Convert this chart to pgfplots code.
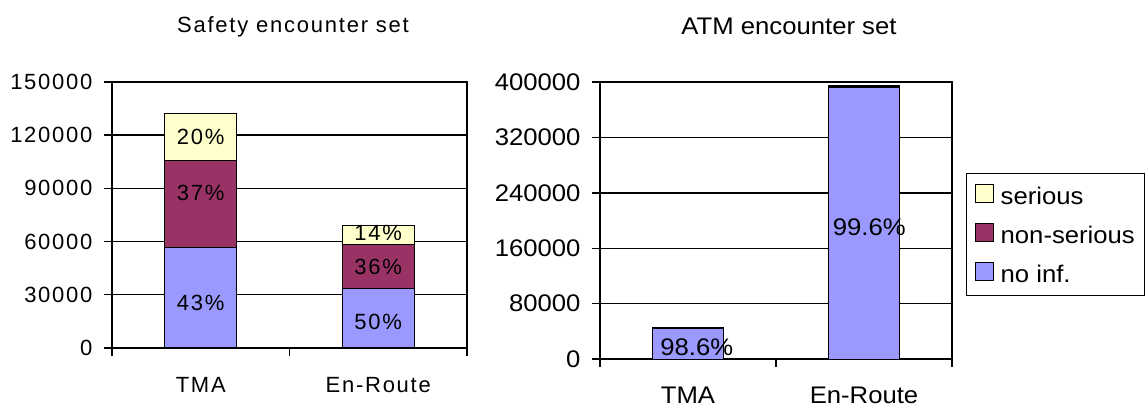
\documentclass[border=0pt]{standalone}
\usepackage{fontspec}
\setmainfont{Liberation Sans}
\newfontfamily\leftfont[LetterSpace=8]{Liberation Sans}
\newfontfamily\rightfont[FakeStretch=1.07]{Liberation Sans}
\usepackage{pgfplots}
\pgfplotsset{compat=1.18}
\definecolor{noinf}{HTML}{9999FF}
\definecolor{nonser}{HTML}{993366}
\definecolor{ser}{HTML}{FFFFCC}
\newcommand{\lf}{\leftfont\fontsize{22bp}{26bp}\selectfont}
\newcommand{\rf}{\rightfont\fontsize{24bp}{28bp}\selectfont}
\pgfplotsset{
  common/.style={
    scale only axis, anchor=south west,
    ybar stacked, xmin=-0.5, xmax=1.5, ymin=0,
    xtick={0,1}, xticklabels={TMA,En-Route},
    minor xtick={-0.5,0.5,1.5},
    major x tick style={draw=none},
    tick align=outside, major tick length=8bp, minor tick length=8bp,
    xtick pos=left, ytick pos=left,
    ymajorgrids, grid style={black, line width=1.4bp},
    axis line style={line width=1.3bp},
    tick style={black, line width=1.4bp},
    scaled y ticks=false,
    yticklabel style={/pgf/number format/fixed, /pgf/number format/1000 sep={}},
    /pgf/number format/assume math mode=true,
    every axis plot/.append style={draw=black, line width=1bp},
  }
}
\begin{document}
\begin{tikzpicture}
\useasboundingbox (0,0) rectangle (1148bp,407bp);
\begin{axis}[common,
  at={(112bp,59bp)}, width=355bp, height=266bp, bar width=72bp,
  ymax=150000, ytick={0,30000,60000,90000,120000,150000},
  tick label style={font=\lf},
  xticklabel style={anchor=base, yshift=-36bp},
  yticklabel style={xshift=-8bp},
]
\addplot[fill=noinf] coordinates {(0,56760) (1,33300)};
\addplot[fill=nonser] coordinates {(0,48840) (1,24800)};
\addplot[fill=ser] coordinates {(0,26400) (1,10700)};
\coordinate (l1) at (axis cs:0,25400);
\coordinate (l2) at (axis cs:0,87400);
\coordinate (l3) at (axis cs:0,119000);
\coordinate (l4) at (axis cs:1,14700);
\coordinate (l5) at (axis cs:1,45700);
\coordinate (l6) at (axis cs:1,64800);
\end{axis}
\node[font=\lf] at (l1) {43\%};
\node[font=\lf] at (l2) {37\%};
\node[font=\lf] at (l3) {20\%};
\node[font=\lf] at (l4) {50\%};
\node[font=\lf] at (l5) {36\%};
\node[font=\lf] at (l6) {14\%};
\begin{axis}[common,
  at={(600bp,48bp)}, width=352bp, height=277bp, bar width=71bp,
  ymax=400000, ytick={0,80000,160000,240000,320000,400000},
  tick label style={font=\rf},
  xticklabel style={anchor=base, yshift=-36bp},
  yticklabel style={xshift=-8bp},
  reverse legend,
  legend style={at={(1.04,0.449)}, anchor=west, draw=black, line width=1bp,
    font=\rf, row sep=15bp, inner xsep=8bp, inner ysep=10bp},
  legend cell align=left,
  legend image code/.code={\draw[#1,draw=black,line width=1.2bp] (0bp,-6bp) rectangle (18bp,12bp); \path (23bp,0bp);},
]
\addplot[fill=noinf] coordinates {(0,44200) (1,392700)};
\addplot[fill=nonser] coordinates {(0,400) (1,1100)};
\addplot[fill=ser] coordinates {(0,230) (1,470)};
\legend{no inf.,non-serious,serious}
\coordinate (r1) at (axis cs:0.05,17300);
\coordinate (r2) at (axis cs:1.03,190600);
\end{axis}
\node[font=\rf] at (r1) {98.6\%};
\node[font=\rf] at (r2) {99.6\%};
\node[font=\lf, anchor=base] at (293bp,374bp) {Safety encounter set};
\node[font=\rf, anchor=base] at (789bp,372bp) {ATM encounter set};
\end{tikzpicture}
\end{document}
